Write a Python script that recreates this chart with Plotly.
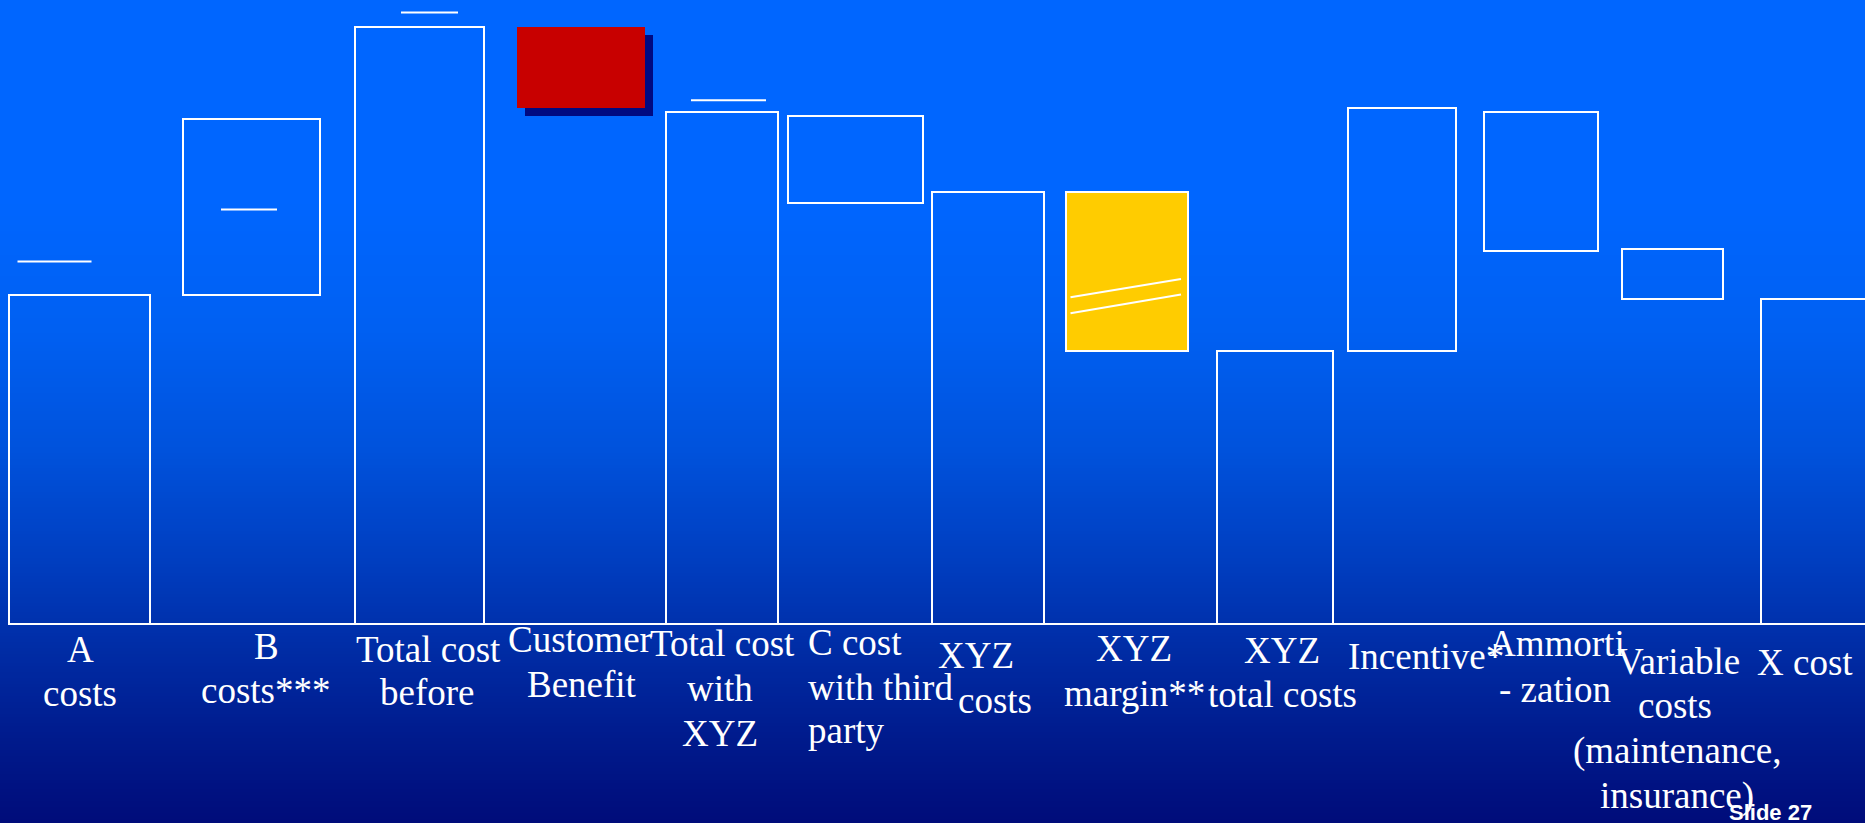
import plotly.graph_objects as go

# ---- data -------------------------------------------------------------
categories = [
    "A\ncosts",
    "B\ncosts***",
    "Total cost\nbefore",
    "Customer\nBenefit",
    "Total cost\nwith\nXYZ",
    "C cost\nwith third\nparty",
    "XYZ\ncosts",
    "XYZ\nmargin**",
    "XYZ\ntotal costs",
    "Incentive*",
    "Ammorti\n- zation",
    "Variable\ncosts\n(maintenance,\ninsurance)",
    "X cost",
]
bar_bottom = [0, 54.9, 0, 86.05, 0, 70.2, 0, 45.5, 0, 45.5, 62.2, 54.1, 0]
bar_top = [54.9, 84.2, 99.55, 99.45, 85.4, 84.7, 71.95, 71.95, 45.5, 86.05, 85.4, 62.5, 54.2]
# short reference marks drawn above / inside some columns
marker_level = [60.4, 69.1, 101.9, None, 87.3, None, None, None, None, None, None, None, None]
# "broken bar" marks on the margin column (start level, end level)
break_marks = [(54.45, 57.5), (51.8, 54.9)]
slide_label = "Slide 27"

# ---- layout / style ---------------------------------------------------
W, H = 1865, 823
ZERO_PX = 624          # pixel row of value 0
PX_PER_UNIT = 6.0      # pixels per value unit

bar_center = [79.7, 251.5, 419.7, 581, 722, 855.8, 988, 1127, 1275, 1402, 1540.8, 1672.4, 1818]
bar_width = [141.5, 137, 129.4, 128, 112, 134.8, 111.7, 122, 116, 108, 114, 101.2, 115]
fill = ["rgba(0,0,0,0)"] * len(categories)
fill[3] = "#C80000"
fill[7] = "#FFCC00"
edge_w = [2] * len(categories)
edge_w[3] = 0
marker_span = [(17.5, 91.5), (221, 277), (401, 458), None, (691, 766)] + [None] * 8
break_span = (1070.5, 1181)
SHADOW = 8  # px offset of the drop shadow behind the benefit block

# label line positions: (x, baseline px, xanchor)
label_pos = [
    [(80, 662, "center"), (80, 706, "center")],
    [(266, 659, "center"), (266, 703, "center")],
    [(428, 662, "center"), (427, 705, "center")],
    [(580, 652, "center"), (582, 697, "center")],
    [(722, 656, "center"), (720, 701, "center"), (720, 746, "center")],
    [(806, 655, "left"), (806, 700, "left"), (806, 743, "left")],
    [(976, 668, "center"), (995, 713, "center")],
    [(1134, 661, "center"), (1134, 706, "center")],
    [(1282, 663, "center"), (1282, 707, "center")],
    [(1346, 669, "left")],
    [(1557, 656, "center"), (1555, 702, "center")],
    [(1678, 674, "center"), (1675, 718, "center"), (1677, 763, "center"), (1677, 808, "center")],
    [(1805, 675, "center")],
]
LABEL_SIZE = 37

y_min = (ZERO_PX - H) / PX_PER_UNIT
y_max = ZERO_PX / PX_PER_UNIT

fig = go.Figure()

# drop shadow of the benefit block
fig.add_trace(go.Bar(
    x=[bar_center[3] + SHADOW],
    y=[bar_top[3] - bar_bottom[3]],
    base=[bar_bottom[3] - SHADOW / PX_PER_UNIT],
    width=[bar_width[3]],
    marker=dict(color="#000A82", line=dict(width=0)),
    hoverinfo="skip",
))

# columns
fig.add_trace(go.Bar(
    x=bar_center,
    y=[t - b for t, b in zip(bar_top, bar_bottom)],
    base=bar_bottom,
    width=bar_width,
    marker=dict(color=fill, line=dict(color="white", width=edge_w)),
    text=[c.replace("\n", " ") for c in categories],
    textposition="none",
    hoverinfo="text",
))

# reference marks
mx, my = [], []
for lvl, span in zip(marker_level, marker_span):
    if lvl is None:
        continue
    mx += [span[0], span[1], None]
    my += [lvl, lvl, None]
for a, b in break_marks:
    mx += [break_span[0], break_span[1], None]
    my += [a, b, None]
fig.add_trace(go.Scatter(x=mx, y=my, mode="lines",
                         line=dict(color="white", width=2), hoverinfo="skip"))

# baseline
fig.add_trace(go.Scatter(x=[bar_center[0] - bar_width[0] / 2, W], y=[0, 0], mode="lines",
                         line=dict(color="white", width=2), hoverinfo="skip"))

# background gradient, drawn as thin horizontal strips
stops = [(0, (0, 102, 255)), (200, (0, 102, 255)), (330, (0, 96, 242)), (450, (0, 82, 220)),
         (560, (0, 62, 192)), (650, (0, 44, 165)), (740, (0, 26, 140)), (823, (0, 12, 122))]


def colour_at(py):
    for (p0, c0), (p1, c1) in zip(stops[:-1], stops[1:]):
        if p0 <= py <= p1:
            t = (py - p0) / (p1 - p0)
            return "rgb(%d,%d,%d)" % tuple(round(a + (b - a) * t) for a, b in zip(c0, c1))
    return "rgb(%d,%d,%d)" % stops[-1][1]


shapes = []
step = 3
for py in range(0, H, step):
    shapes.append(dict(type="rect", xref="paper", yref="paper", layer="below",
                       x0=0, x1=1, y0=1 - (py + step + 0.5) / H, y1=1 - py / H,
                       line=dict(width=0), fillcolor=colour_at(py + step / 2)))

# category labels
annotations = []
for cat, pos in zip(categories, label_pos):
    for line, (x, base_px, anchor) in zip(cat.split("\n"), pos):
        cy = base_px - 0.3375 * LABEL_SIZE
        annotations.append(dict(
            text=line, x=x, xref="x", y=1 - cy / H, yref="paper",
            xanchor=anchor, yanchor="middle", showarrow=False,
            font=dict(family="Liberation Serif", size=LABEL_SIZE, color="white"),
        ))
annotations.append(dict(
    text="<b>%s</b>" % slide_label, x=1770, xref="x", y=1 - (820.5 - 0.36 * 22) / H, yref="paper",
    xanchor="center", yanchor="middle", showarrow=False,
    font=dict(family="Liberation Sans", size=22, color="white"),
))

fig.update_layout(
    width=W, height=H,
    margin=dict(l=0, r=0, t=0, b=0, pad=0),
    paper_bgcolor="rgb(0,102,255)",
    plot_bgcolor="rgba(0,0,0,0)",
    barmode="overlay",
    bargap=0,
    showlegend=False,
    xaxis=dict(range=[0, W], visible=False, fixedrange=True),
    yaxis=dict(range=[y_min, y_max], visible=False, fixedrange=True),
    shapes=shapes,
    annotations=annotations,
)

fig.write_html("out.html", config={"displayModeBar": False})
